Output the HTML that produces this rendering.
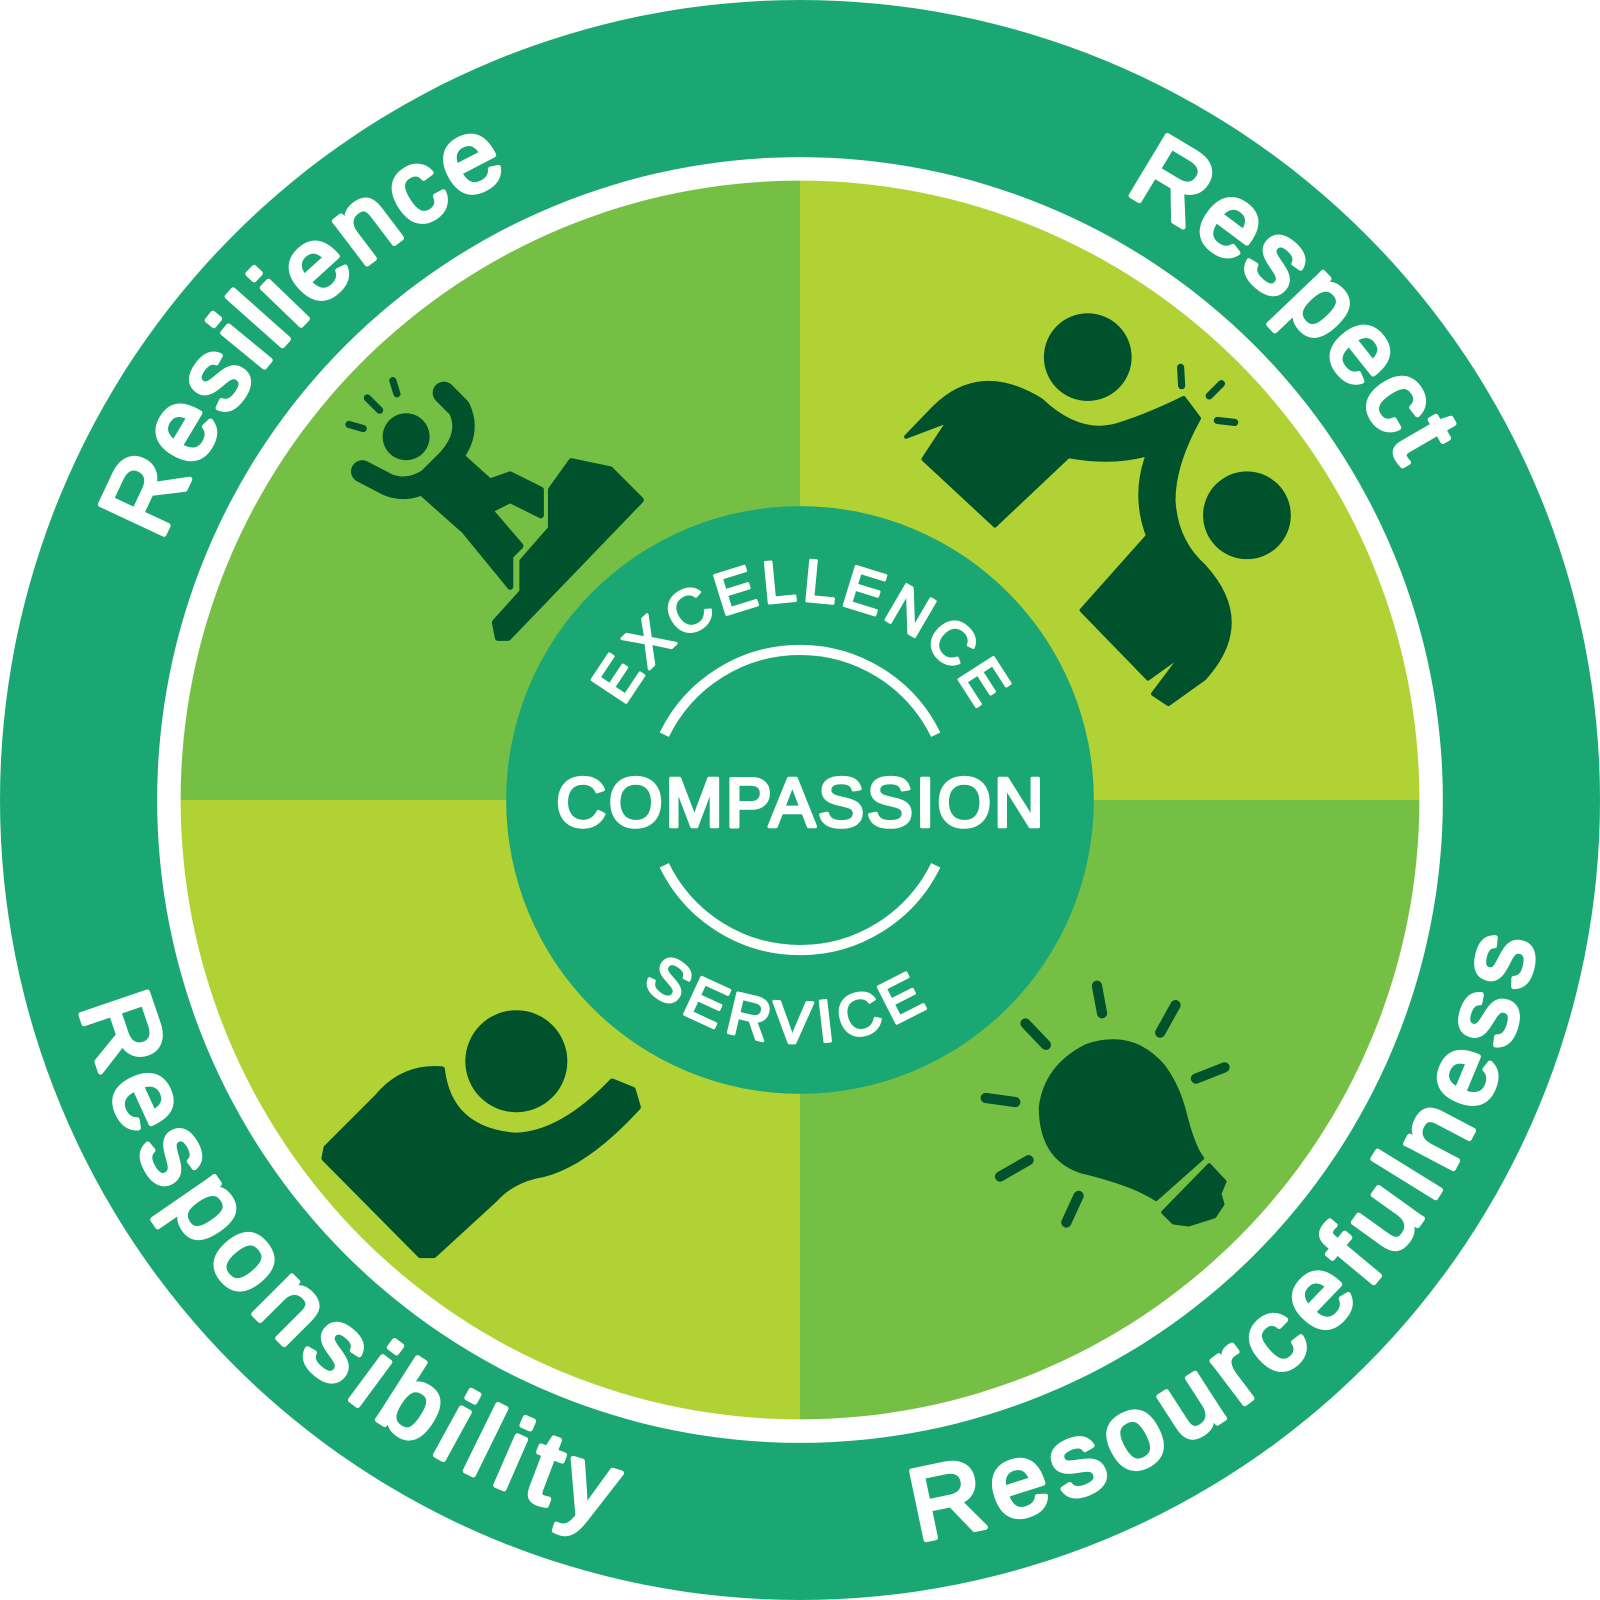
<!DOCTYPE html>
<html><head><meta charset="utf-8"><style>
html,body{margin:0;padding:0;background:#fff;}
svg{display:block}
text{font-family:"Liberation Sans","DejaVu Sans",sans-serif;fill:#fff;stroke:#fff;stroke-linejoin:round;}
</style></head><body>
<svg width="1600" height="1600" viewBox="0 0 1568 1568" xmlns="http://www.w3.org/2000/svg">
<defs>
<path id="topArc" d="M109,784 A675,675 0 0 1 1459,784"/>
<path id="botArc" d="M49,784 A735,735 0 0 0 1519,784"/>
<path id="exArc" d="M589,784 A195,195 0 0 1 979,784"/>
<path id="svArc" d="M546,784 A238,238 0 0 0 1022,784"/>
<clipPath id="inner"><circle cx="784" cy="784" r="607"/></clipPath>
</defs>
<circle cx="784" cy="784" r="784" fill="#1ba774"/>
<circle cx="784" cy="784" r="630" fill="#fff"/>
<g clip-path="url(#inner)">
<rect x="0" y="0" width="784" height="784" fill="#75c044"/>
<rect x="784" y="0" width="784" height="784" fill="#b1d235"/>
<rect x="0" y="784" width="784" height="784" fill="#b1d235"/>
<rect x="784" y="784" width="784" height="784" fill="#75c044"/>
</g>
<circle cx="784" cy="784" r="288" fill="#1ba774"/>

<text font-size="100" stroke-width="5"><textPath href="#topArc" startOffset="259" textLength="507" lengthAdjust="spacing">Resilience</textPath></text>
<text font-size="100" stroke-width="5"><textPath href="#topArc" startOffset="1390" textLength="389" lengthAdjust="spacing">Respect</textPath></text>
<text font-size="100" stroke-width="5"><textPath href="#botArc" startOffset="205" textLength="757" lengthAdjust="spacing">Responsibility</textPath></text>
<text font-size="100" stroke-width="5"><textPath href="#botArc" startOffset="1270" textLength="898" lengthAdjust="spacing">Resourcefulness</textPath></text>

<text font-size="58" stroke-width="3"><textPath href="#exArc" startOffset="95" textLength="425" lengthAdjust="spacing">EXCELLENCE</textPath></text>
<text font-size="58" stroke-width="3"><textPath href="#svArc" startOffset="205" textLength="300" lengthAdjust="spacing">SERVICE</textPath></text>
<text x="784" y="810" font-size="68" stroke-width="3.5" text-anchor="middle" textLength="478" lengthAdjust="spacing">COMPASSION</text>
<path d="M651,720 A148,148 0 0 1 917,720" fill="none" stroke="#fff" stroke-width="10"/>
<path d="M651,848 A148,148 0 0 0 917,848" fill="none" stroke="#fff" stroke-width="10"/>

<g fill="#00522c" stroke="#00522c" stroke-linecap="round" stroke-linejoin="round">
<circle cx="398" cy="428" r="23" stroke="none"/>
<path d="M355,462 L380,475 Q400,483 420,470 L440,450 Q462,425 450,400 L435,385" fill="none" stroke-width="22"/>
<path d="M410,480 L455,520 L500,575 L500,545 L510,535 L480,500 L500,490 L530,505 L530,480 L500,465 L480,472 L450,445 Z" stroke-width="6"/>
<path d="M540,480 L560,452 L598,460 L628,490 L498,625 L488,625 L485,610 L512,580 L512,550 L540,518 Z" stroke-width="6"/>
<path d="M342,416 L356,420 M360,390 L372,402 M385,373 L389,386" fill="none" stroke-width="7"/>
<circle cx="1066" cy="350" r="43" stroke="none"/>
<circle cx="1222" cy="505" r="43" stroke="none"/>
<path d="M888,428 L915,400 Q960,355 1020,392 Q1060,430 1100,415 Q1130,405 1160,390 L1175,410 Q1150,455 1150,490 Q1152,530 1180,555 Q1230,610 1180,665 L1145,690 L1130,680 L1160,640 L1125,665 L1060,598 L1125,525 Q1110,485 1125,445 Q1090,455 1047,447 L975,515 L905,450 L930,412 Z" stroke-width="4"/>
<path d="M1157,360 L1158,378 M1185,388 L1197,376 M1193,412 L1210,414" fill="none" stroke-width="7"/>
<circle cx="506" cy="1040" r="50" stroke="none"/>
<path d="M320,1125 L370,1075 Q395,1045 433,1048 Q440,1108 505,1113 Q550,1112 600,1060 L620,1068 L625,1085 Q570,1145 525,1152 Q500,1158 485,1175 L425,1230 L412,1230 L318,1135 Z" stroke-width="6"/>
<path d="M1133,1175 Q1110,1160 1060,1148 Q1020,1135 1020,1085 Q1025,1045 1065,1025 Q1110,1010 1140,1045 Q1155,1065 1162,1095 Q1170,1125 1178,1135 Z" stroke-width="4"/>
<path d="M1140,1188 L1185,1142 L1200,1158 L1195,1170 L1198,1180 L1190,1192 L1165,1200 L1150,1198 Z" stroke-width="4"/>
<path d="M1075,966 L1080,993 M1137,1012 L1152,985 M1172,1057 L1200,1046 M1005,1003 L1025,1024 M966,1076 L995,1080 M980,1153 L1008,1137 M1045,1198 L1057,1172" fill="none" stroke-width="10"/>
</g>
</svg>
</body></html>
